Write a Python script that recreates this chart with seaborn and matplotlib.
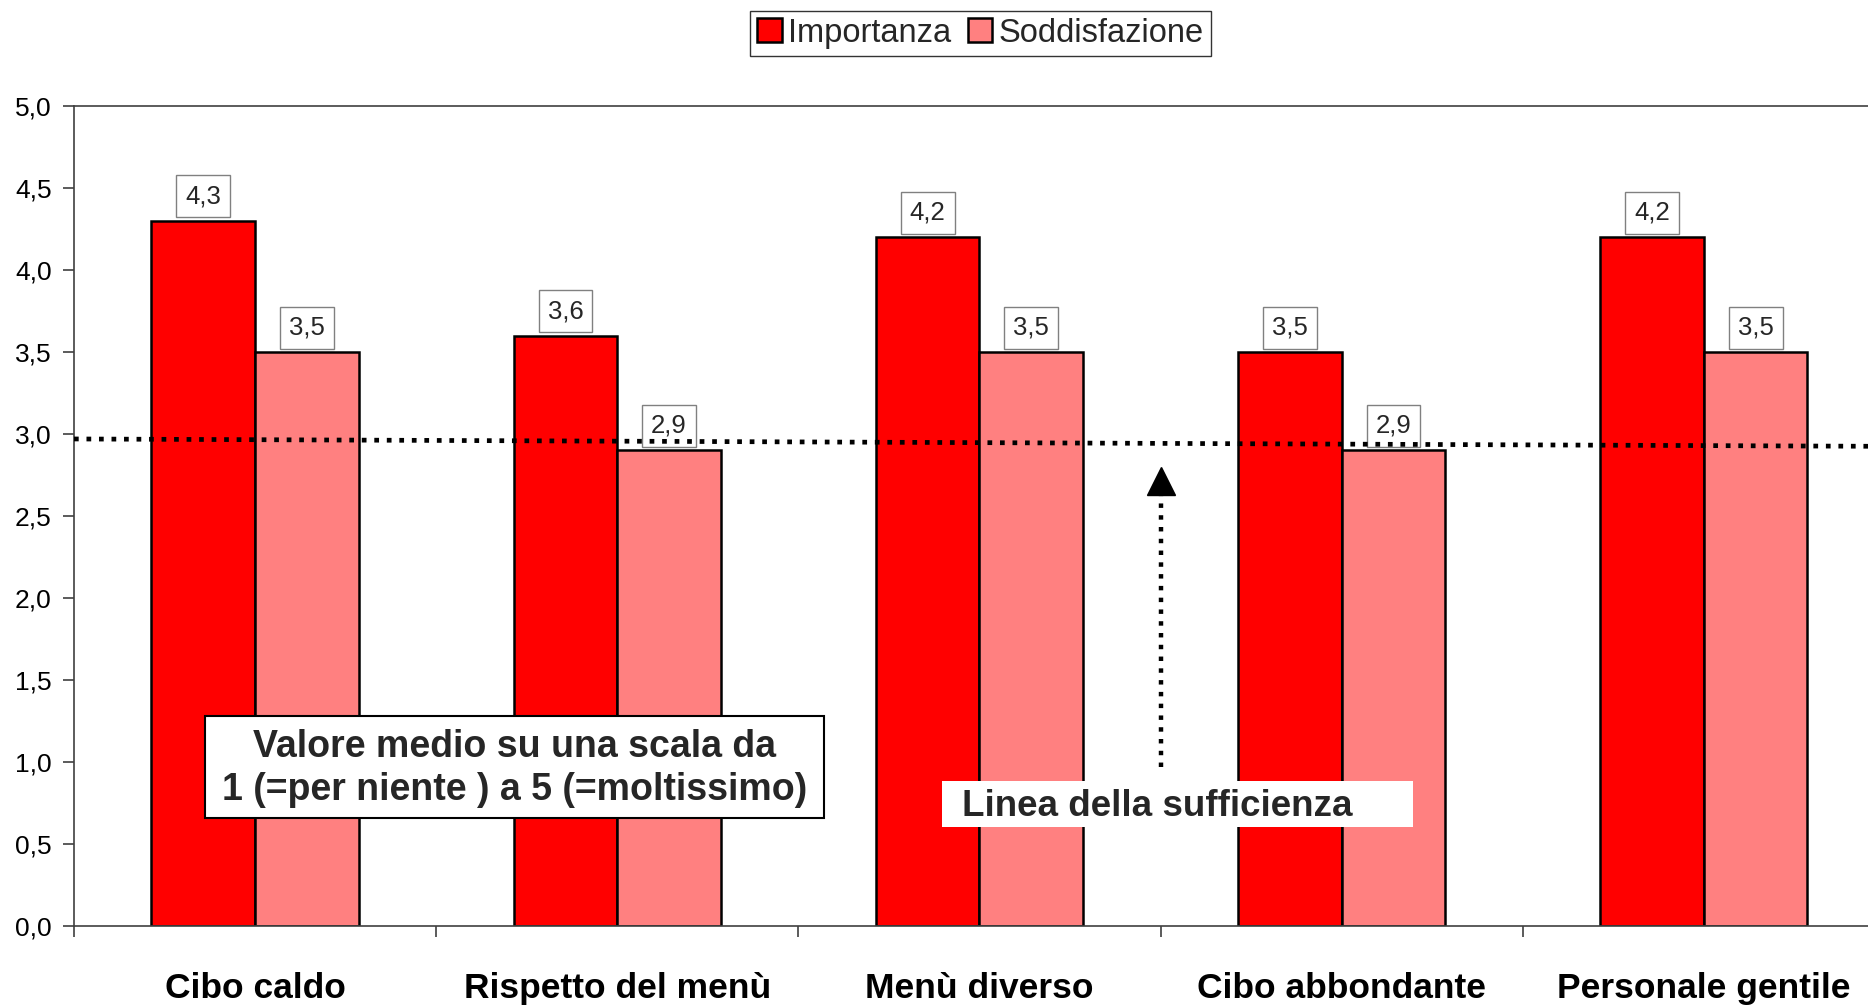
import matplotlib
matplotlib.use("Agg")
import matplotlib.pyplot as plt
import seaborn as sns
import pandas as pd
import numpy as np
from matplotlib.patches import Rectangle
from matplotlib.ticker import FuncFormatter

# ---- data ----
categories = ["Cibo caldo", "Rispetto del menù", "Menù diverso", "Cibo abbondante", "Personale gentile"]
series_names = ["Importanza", "Soddisfazione"]
importanza = [4.3, 3.6, 4.2, 3.5, 4.2]
soddisfazione = [3.5, 2.9, 3.5, 2.9, 3.5]
yticks = [0.0, 0.5, 1.0, 1.5, 2.0, 2.5, 3.0, 3.5, 4.0, 4.5, 5.0]
suff_x = [-0.5, 4.5]
suff_y = [2.97, 2.925]
arrow_x = 2.5
arrow_y = [0.97, 2.63]
arrow_head_y = 2.713
note_text = "Valore medio su una scala da\n1 (=per niente ) a 5 (=moltissimo)"
line_text = "Linea della sufficienza"
colors = ["#FF0000", "#FF8080"]

sns.set_style("white")
plt.rcParams["font.family"] = ["Liberation Sans", "DejaVu Sans"]

df = pd.DataFrame({
    "cat": categories * 2,
    "serie": [n for n in series_names for _ in categories],
    "val": importanza + soddisfazione,
})

def fmt(v):
    return f"{v:.1f}".replace(".", ",")

fig = plt.figure(figsize=(18.68, 10.07), dpi=100)
ax = fig.add_axes([0.0396, 0.0804, 0.9695, 0.8143])

sns.barplot(data=df, x="cat", y="val", hue="serie", order=categories,
            hue_order=series_names, palette=colors, width=0.572,
            edgecolor="black", linewidth=1.8, saturation=1,
            errorbar=None, ax=ax)

ax.set_xlim(-0.5, 4.5)
ax.set_ylim(0, 5)
ax.set_xlabel("")
ax.set_ylabel("")
ax.set_yticks(yticks)
ax.yaxis.set_major_formatter(FuncFormatter(lambda v, p: fmt(v)))
ax.tick_params(axis="y", left=True, length=8, width=1.2, color="#404040",
               labelsize=19, pad=8, labelcolor="black")
ax.set_xticks(np.arange(-0.5, 5, 1), minor=True)
ax.tick_params(axis="x", which="major", bottom=True, length=0, labelsize=25.5, pad=33,
               labelcolor="black")
ax.tick_params(axis="x", which="minor", bottom=True, length=8, width=1.2, color="#404040")
for lbl in ax.get_xticklabels():
    lbl.set_fontweight("bold")

for s in ax.spines.values():
    s.set_visible(True)
    s.set_color("#404040")
    s.set_linewidth(1.2)

for cont, vals in zip(ax.containers, [importanza, soddisfazione]):
    ax.bar_label(cont, labels=[fmt(v) for v in vals], padding=9, fontsize=18.5,
                 bbox=dict(boxstyle="square,pad=0.35", fc="white", ec="#808080", lw=1))

handles, labels = ax.get_legend_handles_labels()
leg = ax.legend(handles, labels, loc="center", bbox_to_anchor=(0.525, 0.967),
                bbox_transform=fig.transFigure, ncol=2, fontsize=23.5, frameon=True,
                fancybox=False, edgecolor="black", handlelength=0.75, handleheight=0.75,
                handletextpad=0.2, columnspacing=0.5, borderpad=0.22, borderaxespad=0)
leg.get_frame().set_linewidth(1.0)

# sufficiency line
ax.plot(suff_x, suff_y, ls=":", color="black", lw=3.4, zorder=10)
# arrow
ax.plot([arrow_x, arrow_x], arrow_y, ls=":", color="black", lw=3.2, zorder=10)
ax.plot([arrow_x], [arrow_head_y], marker="^", ms=20, color="black", zorder=10)

# annotation box
ax.add_patch(Rectangle((0.0724, 0.1317), 0.3418, 0.1244, transform=ax.transAxes,
                       fc="white", ec="black", lw=1.5, zorder=11))
ax.text(0.2433, 0.1925, note_text, transform=ax.transAxes, ha="center", va="center",
        fontsize=27, fontweight="bold", linespacing=1.25,
        family=["Liberation Sans Narrow", "Liberation Sans"], zorder=12)

ax.add_patch(Rectangle((0.4793, 0.1207), 0.2601, 0.0561, transform=ax.transAxes,
                       fc="white", ec="none", zorder=11))
ax.text(0.4903, 0.1455, line_text, transform=ax.transAxes, ha="left", va="center",
        fontsize=26.5, fontweight="bold", zorder=12)

fig.savefig("out.png", dpi=100)
